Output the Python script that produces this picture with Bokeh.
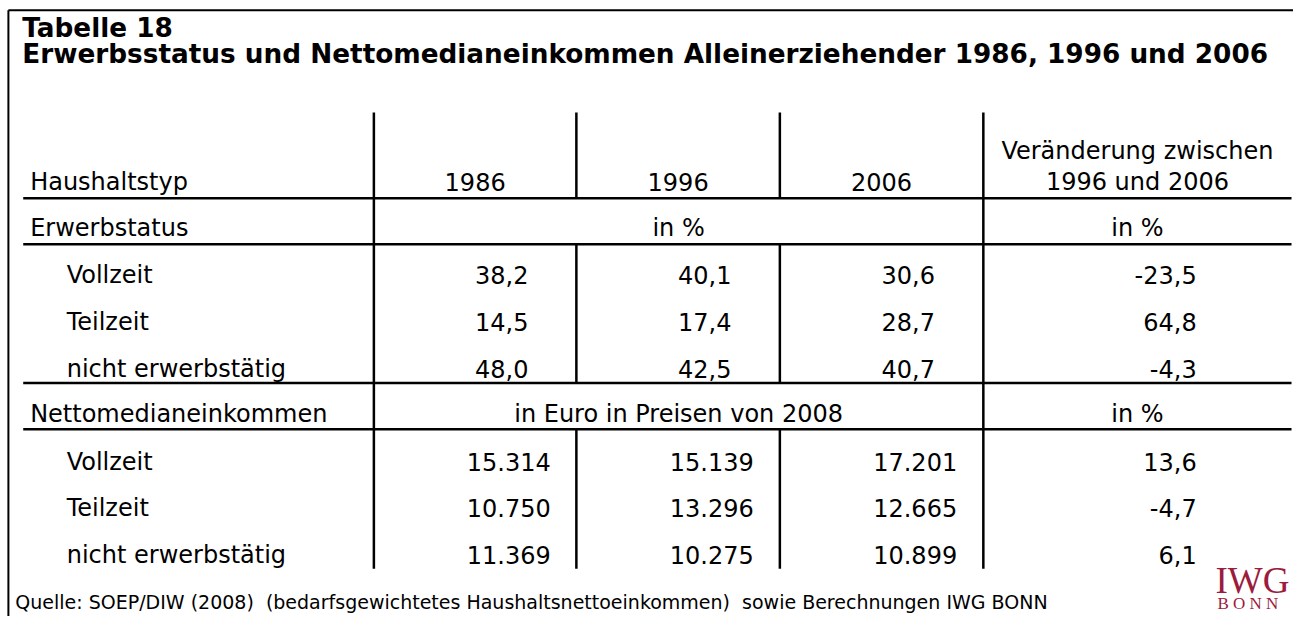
from bokeh.plotting import figure
from bokeh.models import Range1d, ColumnDataSource
from bokeh.core.properties import value
from bokeh.embed import file_html
from bokeh.resources import INLINE

# ---------------- data ----------------
title_line1 = "Tabelle 18"
title_line2 = "Erwerbsstatus und Nettomedianeinkommen Alleinerziehender 1986, 1996 und 2006"
row_header = "Haushaltstyp"
years = ["1986", "1996", "2006"]
change_header = ["Veränderung zwischen", "1996 und 2006"]
section_labels = ["Erwerbstatus", "Nettomedianeinkommen"]
section_units = ["in %", "in Euro in Preisen von 2008"]
change_unit = "in %"
categories = ["Vollzeit", "Teilzeit", "nicht erwerbstätig"]

erwerb_1986 = [38.2, 14.5, 48.0]
erwerb_1996 = [40.1, 17.4, 42.5]
erwerb_2006 = [30.6, 28.7, 40.7]
erwerb_change = [-23.5, 64.8, -4.3]

einkommen_1986 = [15314, 10750, 11369]
einkommen_1996 = [15139, 13296, 10275]
einkommen_2006 = [17201, 12665, 10899]
einkommen_change = [13.6, -4.7, 6.1]

source_note = ("Quelle: SOEP/DIW (2008)\u00a0 (bedarfsgewichtetes Haushaltsnettoeinkommen)\u00a0 "
               "sowie Berechnungen IWG BONN")
logo_top = "IWG"
logo_bottom = "B O N N"


def fmt_pct(v):
    return f"{v:.1f}".replace(".", ",")


def fmt_eur(v):
    return f"{v:,}".replace(",", ".")


# ---------------- layout (coordinates in reference-picture pixels) ----------------
W, H = 1293, 616
REF_W, REF_H = 1309, 632
FONT = "DejaVu Sans"
BODY = 24.0

p = figure(width=W, height=H, x_range=Range1d(0, REF_W), y_range=Range1d(REF_H, 0),
           output_backend="svg", toolbar_location=None,
           x_axis_location=None, y_axis_location=None, min_border=0)
p.grid.visible = False
p.outline_line_color = None
p.background_fill_color = "white"
p.border_fill_color = "white"

COL = [378, 583, 789, 995, 1307]
year_centers = [(COL[i] + COL[i + 1]) / 2 for i in range(3)]
span_center = (COL[0] + COL[3]) / 2
change_center = (COL[3] + COL[4]) / 2
CHANGE_RIGHT = 1211
LABEL_X = 30
INDENT_X = 67
HEADER_BASE = 195
CHANGE_LINE1 = 163
SECTION_BASE = [242, 433]
ROW_BASE = [[290, 338, 387], [482, 529, 577]]
VALUE_OFFSET = [27, 34]
TABLE_TOP = 115
TABLE_BOTTOM = 583
RULES = [203, 250, 392.5, 440]
LINE_LEFT = 23
BASELINE_SHIFT = 0.355  # em: rendered anchor sits this far below the given y

# outer frame (top and left)
p.segment(x0=[8, 8], y0=[10, 10], x1=[REF_W + 5, 8], y1=[10, REF_H + 5],
          line_color="black", line_width=2)

# horizontal rules
p.segment(x0=[LINE_LEFT] * 4, y0=RULES, x1=[COL[4]] * 4, y1=RULES,
          line_color="black", line_width=2.5)

# vertical rules: outer ones continuous, inner ones broken at section rows
vx0, vy0, vy1 = [], [], []
for x in (COL[0], COL[3]):
    vx0.append(x); vy0.append(TABLE_TOP); vy1.append(TABLE_BOTTOM)
for x in (COL[1], COL[2]):
    for a, b in ((TABLE_TOP, RULES[0]), (RULES[1], RULES[2]), (RULES[3], TABLE_BOTTOM)):
        vx0.append(x); vy0.append(a); vy1.append(b)
p.segment(x0=vx0, y0=vy0, x1=vx0, y1=vy1, line_color="black", line_width=2.5)


def txt(xs, ys, texts, align="left", size=BODY, font=FONT, style="normal", color="black"):
    ys = [y - BASELINE_SHIFT * size for y in ys]
    src = ColumnDataSource(dict(x=xs, y=ys, t=texts))
    p.text(x="x", y="y", text="t", source=src, text_font=value(font),
           text_font_size=f"{size}px", text_align=align, text_baseline="alphabetic",
           text_font_style=style, text_color=color)


# title
txt([22, 22], [38, 64], [title_line1, title_line2], size=26.3, style="bold")

# header row
txt([LABEL_X], [HEADER_BASE], [row_header])
txt(year_centers, [HEADER_BASE] * 3, years, align="center")
txt([change_center] * 2, [CHANGE_LINE1, HEADER_BASE], change_header, align="center")

# section rows
txt([LABEL_X] * 2, SECTION_BASE, section_labels)
txt([span_center] * 2, SECTION_BASE, section_units, align="center")
txt([change_center] * 2, SECTION_BASE, [change_unit] * 2, align="center")

# data rows
sections = [
    ([erwerb_1986, erwerb_1996, erwerb_2006], erwerb_change, fmt_pct),
    ([einkommen_1986, einkommen_1996, einkommen_2006], einkommen_change, fmt_eur),
]
for s, (cols, change, f) in enumerate(sections):
    ys = ROW_BASE[s]
    txt([INDENT_X] * 3, ys, categories)
    for c, vals in enumerate(cols):
        txt([year_centers[c] + VALUE_OFFSET[s]] * 3, ys, [f(v) for v in vals], align="center")
    txt([CHANGE_RIGHT] * 3, ys, [fmt_pct(v) for v in change], align="right")

# source note
txt([15], [624], [source_note], size=19.0)

# logo
txt([1230], [608], [logo_top], font="Liberation Serif", size=37.0, color="#9b1c3c")
txt([1232], [625], [logo_bottom], font="Liberation Serif", size=17.0, color="#9b1c3c")

open("out.html", "w").write(file_html(p, INLINE))
